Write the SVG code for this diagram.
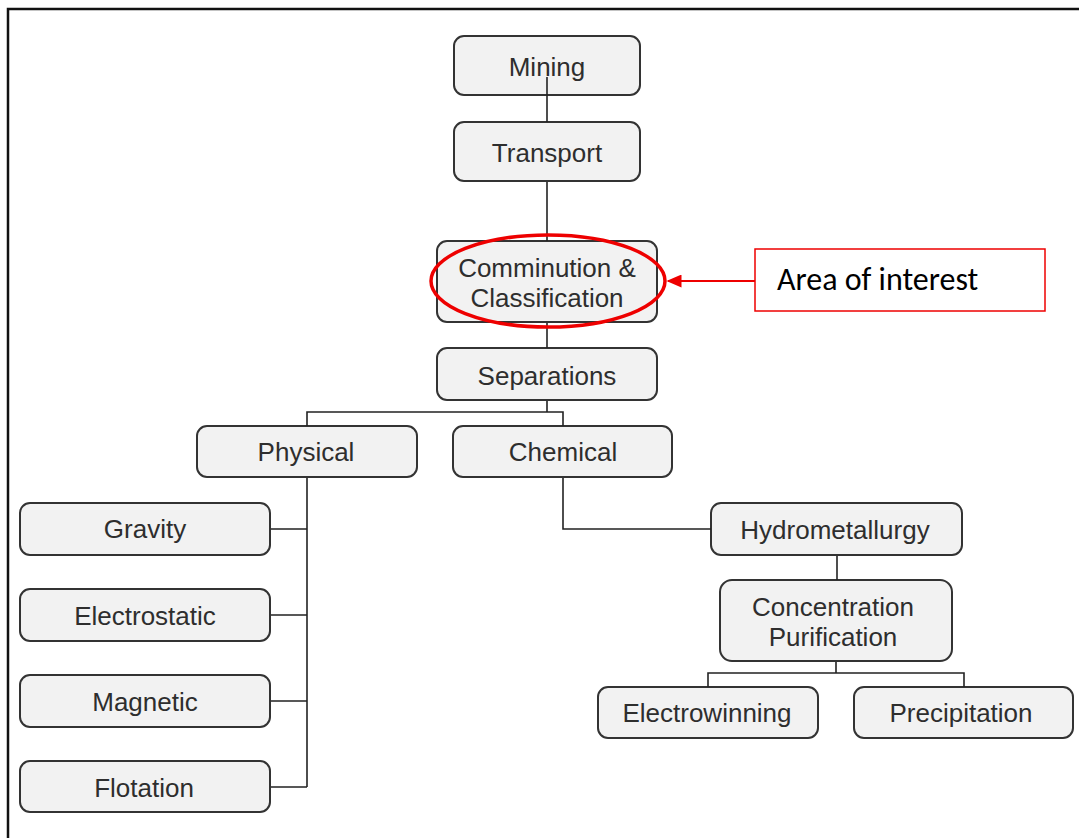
<svg xmlns="http://www.w3.org/2000/svg" width="1079" height="838" viewBox="0 0 1079 838">
<defs>
<style>
.box{fill:#f2f2f2;stroke:#333;stroke-width:2}
.t{font-family:"Liberation Sans",Arial,sans-serif;font-size:26px;fill:#2e2e2e;text-anchor:middle}
.c{fill:none;stroke:#222;stroke-width:1.6}
.red{fill:none;stroke:#ee0000}
</style>
<marker id="ah" viewBox="0 0 10 10" refX="9" refY="5" markerWidth="7.5" markerHeight="6.5" markerUnits="strokeWidth" orient="auto" preserveAspectRatio="none">
<path d="M0,0 L10,5 L0,10 z" fill="#ee0000"/>
</marker>
</defs>
<rect width="1079" height="838" fill="#fff"/>
<path d="M8,838 V9 H1079" fill="none" stroke="#111" stroke-width="2.5"/>
<g id="mining"><rect class="box" x="454" y="36" width="186" height="59" rx="10"/><text class="t" x="547" y="76">Mining</text></g>
<g id="transport"><rect class="box" x="454" y="122" width="186" height="59" rx="10"/><text class="t" x="547" y="162">Transport</text></g>
<g id="comminution"><rect class="box" x="437" y="241" width="220" height="81" rx="10"/><text class="t" x="547" y="277">Comminution &amp;</text><text class="t" x="547" y="307">Classification</text></g>
<g id="separations"><rect class="box" x="437" y="348" width="220" height="52" rx="10"/><text class="t" x="547" y="385">Separations</text></g>
<g id="physical"><rect class="box" x="197" y="426" width="220" height="51" rx="10"/><text class="t" x="306" y="461">Physical</text></g>
<g id="chemical"><rect class="box" x="453" y="426" width="219" height="51" rx="10"/><text class="t" x="563" y="461">Chemical</text></g>
<g id="gravity"><rect class="box" x="20" y="503" width="250" height="52" rx="10"/><text class="t" x="145" y="538">Gravity</text></g>
<g id="electrostatic"><rect class="box" x="20" y="589" width="250" height="52" rx="10"/><text class="t" x="145" y="625">Electrostatic</text></g>
<g id="magnetic"><rect class="box" x="20" y="675" width="250" height="52" rx="10"/><text class="t" x="145" y="711">Magnetic</text></g>
<g id="flotation"><rect class="box" x="20" y="761" width="250" height="51" rx="10"/><text class="t" x="144" y="797">Flotation</text></g>
<g id="hydrometallurgy"><rect class="box" x="711" y="503" width="251" height="52" rx="10"/><text class="t" x="835" y="539">Hydrometallurgy</text></g>
<g id="concentration"><rect class="box" x="720" y="580" width="232" height="81" rx="12"/><text class="t" x="833" y="616">Concentration</text><text class="t" x="833" y="646">Purification</text></g>
<g id="electrowinning"><rect class="box" x="598" y="687" width="220" height="51" rx="10"/><text class="t" x="707" y="722">Electrowinning</text></g>
<g id="precipitation"><rect class="box" x="854" y="687" width="219" height="51" rx="10"/><text class="t" x="961" y="722">Precipitation</text></g>
<g id="connectors">
<path class="c" d="M547,77 V122"/>
<path class="c" d="M547,182 V241"/>
<path class="c" d="M547,323 V348"/>
<path class="c" d="M547,401 V412 M307,426 V412 H563 V426"/>
<path class="c" d="M307,478 V787 M271,529 H307 M271,615 H307 M271,701 H307 M271,787 H307"/>
<path class="c" d="M563,478 V529 H711"/>
<path class="c" d="M837,556 V580"/>
<path class="c" d="M836,662 V673 M708,687 V673 H964 V687"/>
</g>
<g id="annotation">
<ellipse class="red" cx="548" cy="281" rx="117" ry="46" stroke-width="3.5"/>
<line class="red" x1="755" y1="281" x2="668" y2="281" stroke-width="2" marker-end="url(#ah)"/>
<rect class="red" x="755" y="249" width="290" height="62" stroke-width="1.5"/>
<text x="777" y="290" font-family="Carlito,'Liberation Sans',sans-serif" font-size="32" fill="#000">Area of interest</text>
</g>
</svg>
